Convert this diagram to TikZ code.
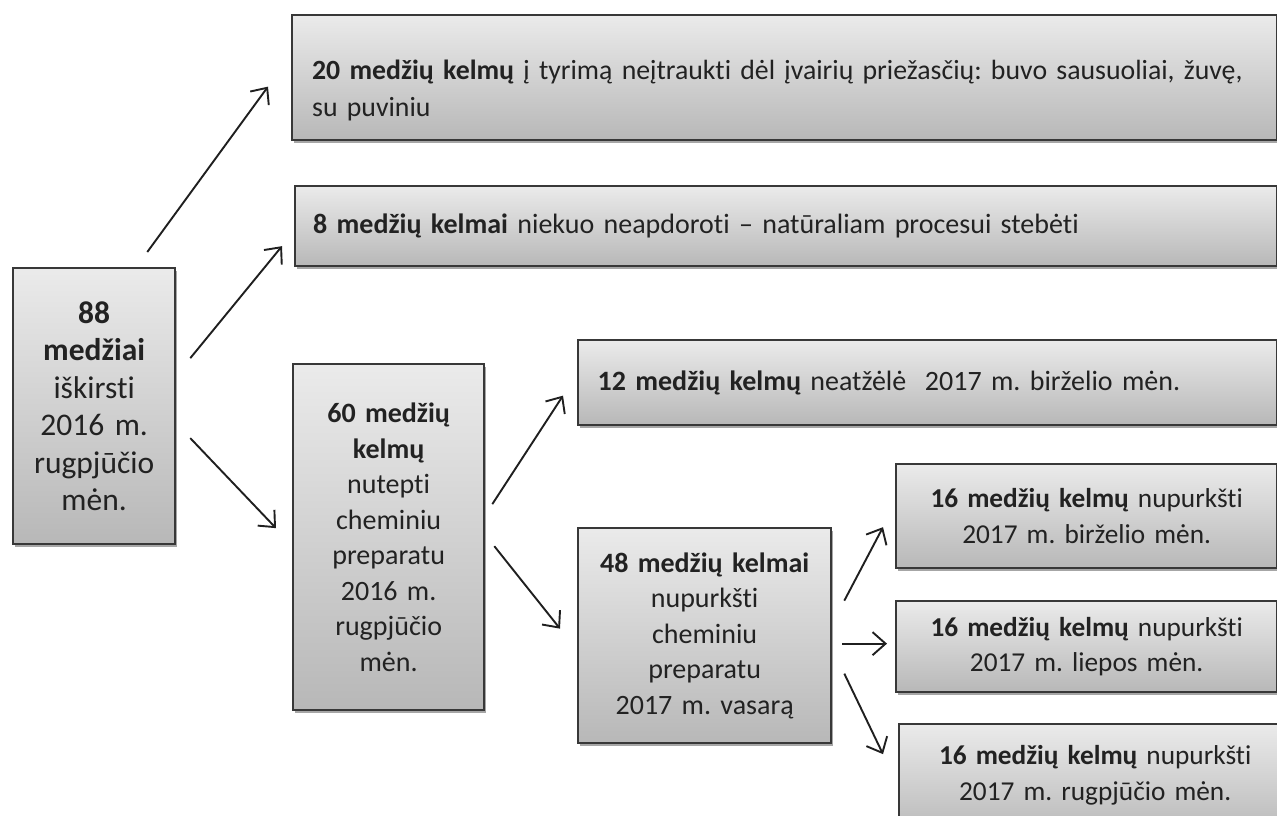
\documentclass[tikz,border=0pt]{standalone}
\usepackage{fontspec}
\setmainfont{Carlito}[Ligatures=NoCommon,Contextuals=NoAlternate]
\usetikzlibrary{arrows.meta,shadows,calc}
\frenchspacing
\definecolor{txtc}{HTML}{222222}
\definecolor{linec}{HTML}{383838}
\tikzset{
  box/.style={draw=linec, line width=2.3pt, top color=black!8, bottom color=black!28,
    drop shadow={shadow xshift=2pt, shadow yshift=-3pt, opacity=0.35, fill=black},
    inner sep=0pt, text=txtc, anchor=north west},
  bigtxt/.style={font=\fontsize{31.5}{37.5}\selectfont},
  midtxt/.style={font=\fontsize{28}{35.5}\selectfont},
  smtxt/.style={font=\fontsize{27.3}{35.5}\selectfont},
  ctr/.style={align=center},
  lft/.style={align=left},
  arr/.style={draw=black!88, line width=1.9pt, -{Straight Barb[length=13pt,width=23pt,line width=1.9pt]}}
}
\begin{document}
\begin{tikzpicture}[x=1pt,y=-1pt]
\useasboundingbox (0,0) rectangle (1277,816);
% boxes
\node[box,bigtxt,ctr,minimum width=162,minimum height=276,text width=155] (A) at (12,267)
  {\textbf{88}\\\textbf{medžiai}\\iškirsti\\2016 m.\\rugpjūčio\\mėn.};
\node[box,font=\fontsize{27.8}{37}\selectfont,lft,minimum width=985,minimum height=125,text width=945] (T) at (291,14)
  {\rule{0pt}{46pt}\textbf{20 medžių kelmų} į tyrimą neįtraukti dėl įvairių priežasčių: buvo sausuoliai, žuvę,\\su puviniu};
\node[box,midtxt,lft,minimum width=982,minimum height=80,text width=946] (S) at (294,185)
  {\textbf{8 medžių kelmai} niekuo neapdoroti – natūraliam procesui stebėti};
\node[box,midtxt,ctr,minimum width=191,minimum height=346,text width=185] (B) at (292,363)
  {\textbf{60 medžių}\\\textbf{kelmų}\\nutepti\\cheminiu\\preparatu\\2016 m.\\rugpjūčio\\mėn.};
\node[box,midtxt,lft,minimum width=699,minimum height=85,text width=660] (C) at (577,339)
  {\textbf{12 medžių kelmų} neatžėlė\ \ 2017 m. birželio mėn.};
\node[box,midtxt,ctr,minimum width=253,minimum height=215,text width=248] (D) at (577,527)
  {\textbf{48 medžių kelmai}\\nupurkšti\\cheminiu\\preparatu\\2017 m. vasarą};
\node[box,smtxt,ctr,minimum width=381,minimum height=104,text width=375] (E) at (895,463)
  {\textbf{16 medžių kelmų} nupurkšti\\2017 m. birželio mėn.};
\node[box,smtxt,ctr,minimum width=381,minimum height=91,text width=375] (F) at (895,600)
  {\textbf{16 medžių kelmų} nupurkšti\hspace*{18pt}\\2017 m. liepos mėn.};
\node[box,smtxt,ctr,minimum width=392,minimum height=112,text width=375] (G) at (898,723)
  {\textbf{16 medžių kelmų} nupurkšti\\2017 m. rugpjūčio mėn.\rule[-14pt]{0pt}{1pt}};
% connector ends
\coordinate (a1s) at ($(A.north east)+(-29,-15)$);
\coordinate (a1e) at ($(T.west)+(-23,9)$);
\coordinate (a2s) at ($(A.east)+(14,-48)$);
\coordinate (a2e) at ($(S.west)+(-12,20)$);
\coordinate (a3s) at ($(A.east)+(14,32)$);
\coordinate (a3e) at ($(B.west)+(-16,-9)$);
\coordinate (b1s) at ($(B.east)+(7,-33)$);
\coordinate (b1e) at ($(C.west)+(-14,13)$);
\coordinate (b2s) at ($(B.east)+(9,9)$);
\coordinate (b2e) at ($(D.west)+(-17,-7)$);
\coordinate (d1s) at ($(D.east)+(12,-35)$);
\coordinate (d1e) at ($(E.west)+(-12,11)$);
\coordinate (d2s) at ($(D.east)+(10,8)$);
\coordinate (d2e) at ($(F.west)+(-8,-3)$);
\coordinate (d3s) at ($(D.east)+(12,38)$);
\coordinate (d3e) at ($(G.west)+(-15,-26)$);
\draw[arr] (a1s) -- (a1e);
\draw[arr] (a2s) -- (a2e);
\draw[arr] (a3s) -- (a3e);
\draw[arr] (b1s) -- (b1e);
\draw[arr] (b2s) -- (b2e);
\draw[arr] (d1s) -- (d1e);
\draw[arr] (d2s) -- (d2e);
\draw[arr] (d3s) -- (d3e);
\end{tikzpicture}
\end{document}
